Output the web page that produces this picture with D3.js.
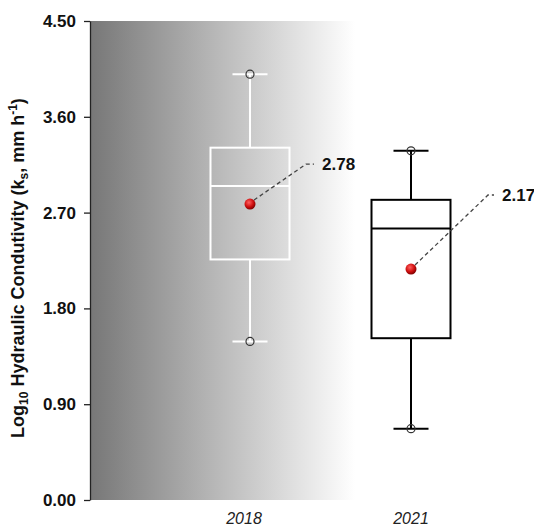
<!DOCTYPE html>
<html>
<head>
<meta charset="utf-8">
<script src="https://cdn.jsdelivr.net/npm/d3@7"></script>
<style>
  body { margin: 0; background: #fff; }
  svg text { font-family: "Liberation Sans", Arial, sans-serif; }
</style>
</head>
<body>
<svg id="chart"></svg>
<script>
// данные
const years = ["2018", "2021"];
const whiskerMax = [4.00, 3.28];
const q3 = [3.31, 2.82];
const medians = [2.95, 2.55];
const q1 = [2.26, 1.52];
const whiskerMin = [1.49, 0.67];
const means = [2.78, 2.17];
const yTicks = [0, 0.9, 1.8, 2.7, 3.6, 4.5];

const width = 534, height = 527;
const marginLeft = 90, marginTop = 21, marginBottom = 27;
const boxW = 79, capW = 35;

const svg = d3.select("#chart").attr("width", width).attr("height", height);

const scaleY = d3.scaleLinear().domain([0, 4.5]).range([height - marginBottom, marginTop]);
const scaleX = d3.scalePoint().domain(years).range([250, 411]);

// серый градиент фона
const defs = svg.append("defs");
const grad = defs.append("linearGradient").attr("id", "bg").attr("x1", "0").attr("x2", "1").attr("y1", "0").attr("y2", "0");
grad.append("stop").attr("offset", "0%").attr("stop-color", "#777777");
grad.append("stop").attr("offset", "55%").attr("stop-color", "#c2c2c2");
grad.append("stop").attr("offset", "100%").attr("stop-color", "#ffffff");

const dotGrad = defs.append("radialGradient").attr("id", "dot").attr("cx", "40%").attr("cy", "35%").attr("r", "65%");
dotGrad.append("stop").attr("offset", "0%").attr("stop-color", "#ff6060");
dotGrad.append("stop").attr("offset", "60%").attr("stop-color", "#d01010");
dotGrad.append("stop").attr("offset", "100%").attr("stop-color", "#800000");

svg.append("rect")
  .attr("x", marginLeft).attr("y", scaleY(4.5))
  .attr("width", 355 - marginLeft).attr("height", scaleY(0) - scaleY(4.5))
  .attr("fill", "url(#bg)");

// ось Y
const axisY = d3.axisLeft(scaleY).tickValues(yTicks).tickFormat(d3.format(".2f")).tickSize(6).tickSizeOuter(0);
const gy = svg.append("g").attr("transform", `translate(${marginLeft},0)`).call(axisY);
gy.select(".domain").attr("stroke", "#222").attr("stroke-width", 1.3);
gy.selectAll(".tick line").attr("stroke", "#222").attr("stroke-width", 1.3);
gy.selectAll(".tick text")
  .attr("x", -14)
  .style("font-size", "17px").style("font-weight", "bold").attr("fill", "#111");

// подпись оси Y
const title = svg.append("text")
  .attr("transform", `translate(24, ${268}) rotate(-90)`)
  .attr("text-anchor", "middle")
  .style("font-size", "18px").style("font-weight", "bold").attr("fill", "#111");
title.append("tspan").text("Log");
title.append("tspan").text("10").style("font-size", "12px").attr("dy", 4);
title.append("tspan").text(" Hydraulic Condutivity (k").attr("dy", -4);
title.append("tspan").text("s").style("font-size", "12px").attr("dy", 4);
title.append("tspan").text(", mm h").attr("dy", -4);
title.append("tspan").text("-1").style("font-size", "12px").attr("dy", -7);
title.append("tspan").text(")").attr("dy", 7);

// подписи оси X
svg.selectAll(".xlab")
  .data(years)
  .enter().append("text")
  .attr("x", (d, i) => scaleX(d) - (i === 0 ? 6 : 0))
  .attr("y", 524)
  .attr("text-anchor", "middle")
  .style("font-size", "16px").style("font-style", "italic").attr("fill", "#222")
  .text(d => d);

// ящики с усами
const colors = ["#ffffff", "#000000"];
const fills = ["none", "#ffffff"];

years.forEach((yr, i) => {
  const cx = scaleX(yr);
  const g = svg.append("g");
  const c = colors[i];
  // усы
  g.append("line").attr("x1", cx).attr("x2", cx)
    .attr("y1", scaleY(whiskerMax[i])).attr("y2", scaleY(q3[i]))
    .attr("stroke", c).attr("stroke-width", 2);
  g.append("line").attr("x1", cx).attr("x2", cx)
    .attr("y1", scaleY(q1[i])).attr("y2", scaleY(whiskerMin[i]))
    .attr("stroke", c).attr("stroke-width", 2);
  [whiskerMax[i], whiskerMin[i]].forEach(v => {
    g.append("line").attr("x1", cx - capW / 2).attr("x2", cx + capW / 2)
      .attr("y1", scaleY(v)).attr("y2", scaleY(v))
      .attr("stroke", c).attr("stroke-width", 2);
    g.append("circle").attr("cx", cx).attr("cy", scaleY(v)).attr("r", 4)
      .attr("fill", "none").attr("stroke", "#333").attr("stroke-width", 1.2);
  });
  // ящик
  g.append("rect")
    .attr("x", cx - boxW / 2).attr("width", boxW)
    .attr("y", scaleY(q3[i])).attr("height", scaleY(q1[i]) - scaleY(q3[i]))
    .attr("fill", fills[i]).attr("stroke", c).attr("stroke-width", 2);
  g.append("line").attr("x1", cx - boxW / 2).attr("x2", cx + boxW / 2)
    .attr("y1", scaleY(medians[i])).attr("y2", scaleY(medians[i]))
    .attr("stroke", c).attr("stroke-width", 2);
});

// средние значения с выносками
const labelOff = [[56, -40, 8], [77, -74, 6]];
years.forEach((yr, i) => {
  const cx = scaleX(yr), cy = scaleY(means[i]);
  const [dx, dy, hz] = labelOff[i];
  svg.append("path")
    .attr("d", `M${cx + 4},${cy - 4} L${cx + dx},${cy + dy} L${cx + dx + hz},${cy + dy}`)
    .attr("fill", "none").attr("stroke", "#444").attr("stroke-width", 1.3)
    .attr("stroke-dasharray", "4,3");
  svg.append("circle").attr("cx", cx).attr("cy", cy).attr("r", 5.5)
    .attr("fill", "url(#dot)");
  svg.append("text")
    .attr("x", cx + dx + hz + 8).attr("y", cy + dy + 6)
    .style("font-size", "17px").style("font-weight", "bold").attr("fill", "#111")
    .text(means[i].toFixed(2));
});
</script>
</body>
</html>
